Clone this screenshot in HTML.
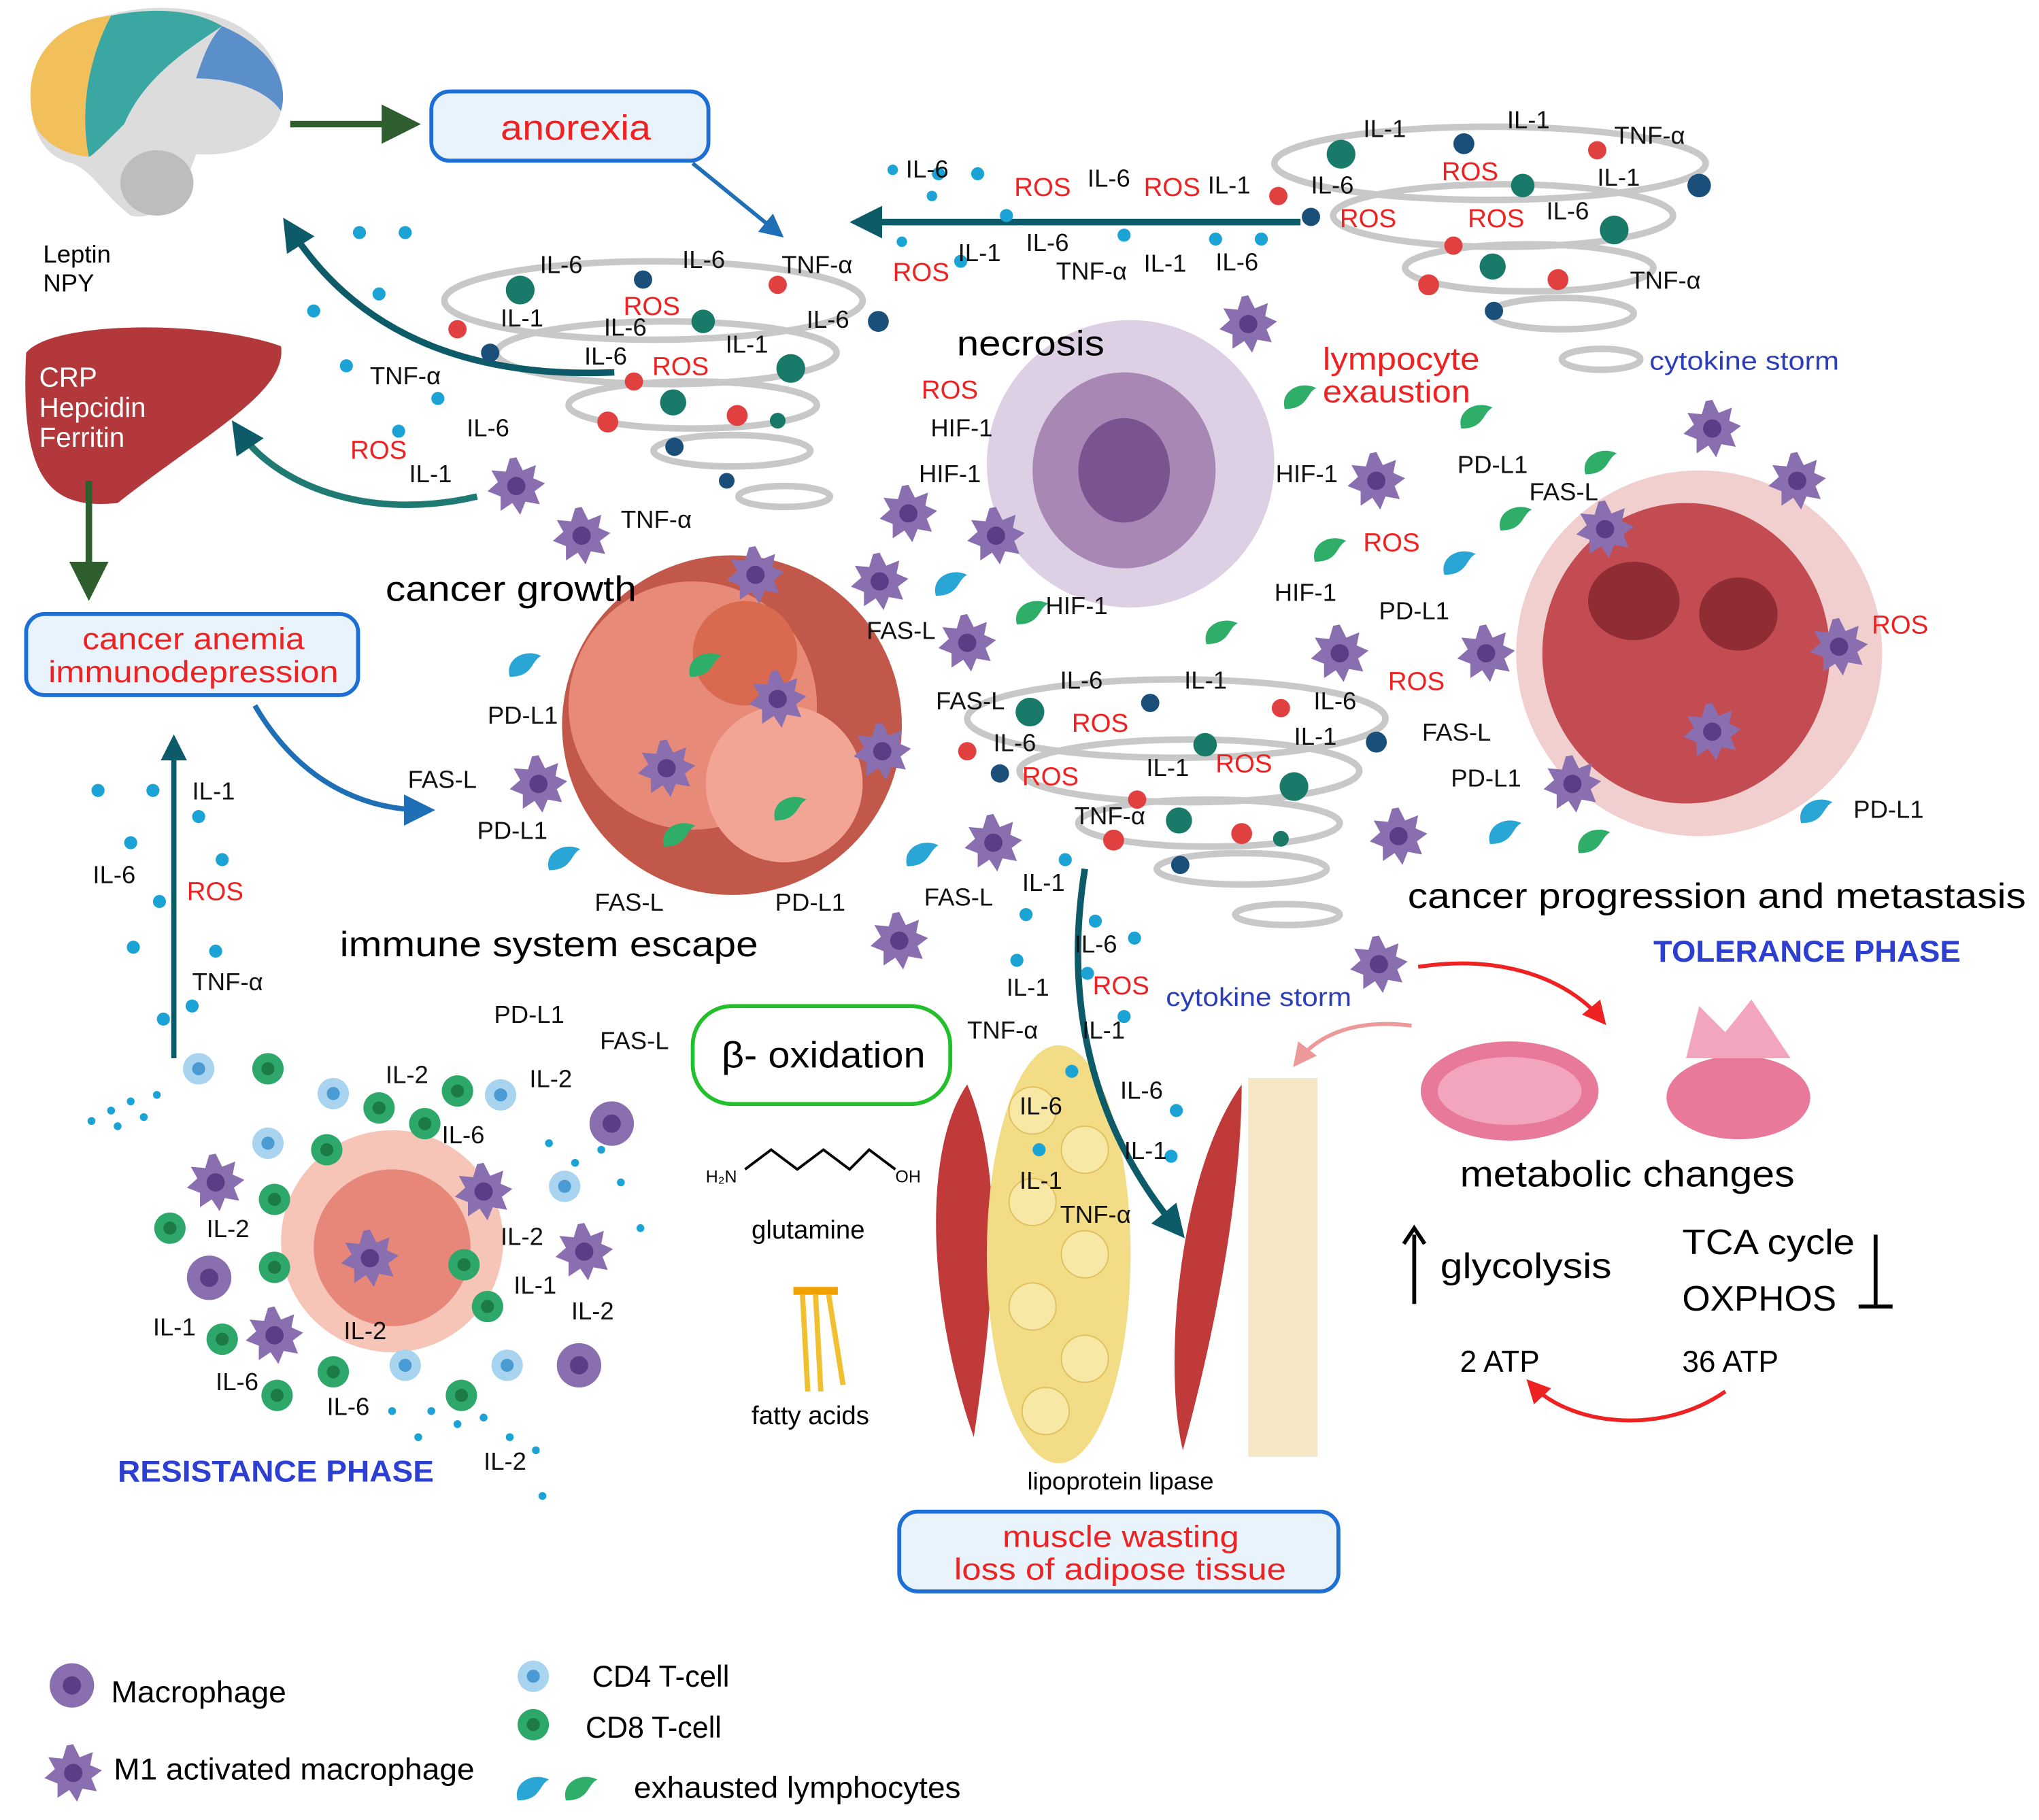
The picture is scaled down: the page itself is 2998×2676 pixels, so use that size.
<!DOCTYPE html>
<html><head><meta charset="utf-8"><style>
html,body{margin:0;padding:0;background:#fff}
svg{display:block}
text{font-family:"Liberation Sans",sans-serif}
</style></head><body>
<svg width="2998" height="2676" viewBox="0 0 1560 1393" preserveAspectRatio="none" xmlns="http://www.w3.org/2000/svg">
<defs>
<marker id="ag" markerWidth="6" markerHeight="6" refX="4" refY="3" orient="auto"><path d="M0,0L6,3L0,6z" fill="#2e5e2e"/></marker>
<marker id="ab" markerWidth="6" markerHeight="6" refX="4" refY="3" orient="auto"><path d="M0,0L6,3L0,6z" fill="#1e6fb5"/></marker>
<marker id="at" markerWidth="5" markerHeight="5" refX="3" refY="2.5" orient="auto"><path d="M0,0L5,2.5L0,5z" fill="#0d5a68"/></marker>
<marker id="ar" markerWidth="6" markerHeight="6" refX="4" refY="3" orient="auto"><path d="M0,0L6,3L0,6z" fill="#e22"/></marker>
<marker id="ap" markerWidth="6" markerHeight="6" refX="4" refY="3" orient="auto"><path d="M0,0L6,3L0,6z" fill="#e99"/></marker>
<g id="mac"><circle r="17" fill="#8a6fb0"/><circle r="7" fill="#5a3d86"/></g>
<g id="m1"><polygon points="0,-22 5,-12 15,-16 13,-6 22,-2 14,4 18,14 7,12 3,22 -3,13 -12,19 -12,8 -22,4 -14,-3 -19,-12 -8,-11 -5,-21" fill="#8a6fb0"/><circle r="7" fill="#5a3d86"/></g>
<g id="cd4"><circle r="12" fill="#a8d4ef"/><circle r="5" fill="#4a9ad4"/></g>
<g id="cd8"><circle r="12" fill="#2ea86a"/><circle r="5" fill="#1b7a48"/></g>
<g id="exb"><path d="M-12,8 C-16,-6 0,-14 12,-8 C4,-4 6,8 -12,8z" fill="#2aa6d6"/></g>
<g id="exg"><path d="M-12,8 C-16,-6 0,-14 12,-8 C4,-4 6,8 -12,8z" fill="#2fae6a"/></g>
</defs>

<!-- brain -->
<path d="M25,90 C15,40 60,8 120,6 C185,5 222,40 215,85 C210,110 180,120 150,118 C140,150 120,170 100,165 C80,150 70,130 55,125 C35,120 28,105 25,90z" fill="#dcdcdc"/>
<path d="M25,90 C15,40 50,15 85,12 C70,40 60,80 68,120 C45,118 28,105 25,90z" fill="#f2c05a"/>
<path d="M85,12 C120,5 150,8 170,20 C140,40 110,60 95,95 C80,110 70,120 68,120 C60,80 70,40 85,12z" fill="#3aa7a2"/>
<path d="M170,20 C205,35 222,60 215,85 C205,70 180,60 150,60 C155,45 160,30 170,20z" fill="#5b8fc9"/>
<ellipse cx="120" cy="140" rx="28" ry="25" fill="#bdbdbd"/>
<text x="33" y="201" font-size="19">Leptin</text><text x="33" y="223" font-size="19">NPY</text>
<!-- liver -->
<path d="M20,270 C40,245 160,245 215,265 C220,300 160,330 90,385 C40,390 15,370 20,270z" fill="#b3383c"/>
<text x="30" y="296" font-size="21" fill="#fff">CRP</text><text x="30" y="319" font-size="21" fill="#fff">Hepcidin</text><text x="30" y="342" font-size="21" fill="#fff">Ferritin</text>

<!-- boxes -->
<rect x="330" y="70" width="212" height="53" rx="14" fill="#e8f3fb" stroke="#1e6fd5" stroke-width="3"/>
<text x="383" y="107" font-size="27" fill="#e22" textLength="115" lengthAdjust="spacingAndGlyphs">anorexia</text>
<rect x="20" y="470" width="254" height="62" rx="14" fill="#e8f3fb" stroke="#1e6fd5" stroke-width="3"/>
<text x="63" y="497" font-size="23" fill="#e22" textLength="170" lengthAdjust="spacingAndGlyphs">cancer anemia</text>
<text x="37" y="522" font-size="23" fill="#e22" textLength="222" lengthAdjust="spacingAndGlyphs">immunodepression</text>
<rect x="530" y="770" width="197" height="75" rx="30" fill="#fff" stroke="#22c02a" stroke-width="3"/>
<text x="552" y="817" font-size="28" textLength="156" lengthAdjust="spacingAndGlyphs">β- oxidation</text>
<rect x="688" y="1157" width="336" height="61" rx="14" fill="#e8f3fb" stroke="#1e6fd5" stroke-width="3"/>
<text x="767" y="1184" font-size="23" fill="#e22" textLength="181" lengthAdjust="spacingAndGlyphs">muscle wasting</text>
<text x="730" y="1209" font-size="23" fill="#e22" textLength="254" lengthAdjust="spacingAndGlyphs">loss of adipose tissue</text>

<!-- spirals -->
<g fill="none" stroke="#c8c8c8" stroke-width="5">
<ellipse cx="1140" cy="125" rx="165" ry="28"/><ellipse cx="1150" cy="165" rx="130" ry="24"/><ellipse cx="1170" cy="205" rx="95" ry="18"/><ellipse cx="1195" cy="240" rx="55" ry="12"/><ellipse cx="1225" cy="275" rx="30" ry="8"/>
<ellipse cx="500" cy="230" rx="160" ry="30"/><ellipse cx="510" cy="270" rx="130" ry="24"/><ellipse cx="530" cy="310" rx="95" ry="18"/><ellipse cx="560" cy="345" rx="60" ry="12"/><ellipse cx="600" cy="380" rx="35" ry="8"/>
<ellipse cx="900" cy="550" rx="160" ry="30"/><ellipse cx="910" cy="590" rx="130" ry="24"/><ellipse cx="925" cy="630" rx="100" ry="18"/><ellipse cx="950" cy="665" rx="65" ry="12"/><ellipse cx="985" cy="700" rx="40" ry="8"/>
</g>

<!-- tumors -->
<circle cx="560" cy="555" r="130" fill="#c2584a"/>
<circle cx="530" cy="540" r="95" fill="#e88a78"/>
<circle cx="600" cy="600" r="60" fill="#f2a595"/>
<circle cx="570" cy="500" r="40" fill="#d9694f"/>
<ellipse cx="865" cy="355" rx="110" ry="110" fill="#ddd0e4"/>
<ellipse cx="860" cy="360" rx="70" ry="75" fill="#a987b5"/>
<ellipse cx="860" cy="360" rx="35" ry="40" fill="#7a5490"/>
<ellipse cx="1300" cy="500" rx="140" ry="140" fill="#f2cfcf"/>
<ellipse cx="1290" cy="500" rx="110" ry="115" fill="#c24c52"/>
<ellipse cx="1250" cy="460" rx="35" ry="30" fill="#8f2c34"/>
<ellipse cx="1330" cy="470" rx="30" ry="28" fill="#8f2c34"/>
<circle cx="300" cy="950" r="85" fill="#f6c5b8"/>
<circle cx="300" cy="955" r="60" fill="#e78779"/>

<!-- muscle / fat -->
<path d="M740,830 C705,880 710,1000 745,1100 C760,1000 770,900 740,830z" fill="#c03a3a"/>
<ellipse cx="810" cy="960" rx="55" ry="160" fill="#f3dc86"/>
<g fill="#f8e8a6" stroke="#e0c060"><circle cx="790" cy="850" r="18"/><circle cx="830" cy="880" r="18"/><circle cx="790" cy="920" r="18"/><circle cx="830" cy="960" r="18"/><circle cx="790" cy="1000" r="18"/><circle cx="830" cy="1040" r="18"/><circle cx="800" cy="1080" r="18"/></g>
<path d="M955,825 L1008,825 L1008,1115 L955,1115z" fill="#f5e6c6"/>
<path d="M950,830 C900,900 890,1050 905,1110 C935,1000 950,900 950,830z" fill="#c03a3a"/>
<!-- mitochondria -->
<ellipse cx="1155" cy="835" rx="68" ry="38" fill="#e8799a"/><ellipse cx="1155" cy="835" rx="55" ry="26" fill="#f2a5bd"/>
<ellipse cx="1330" cy="840" rx="55" ry="32" fill="#e8799a"/><path d="M1290,810 L1300,770 L1320,790 L1340,765 L1360,795 L1370,810z" fill="#f2a5bd"/>
<!-- fatty acids -->
<rect x="607" y="985" width="34" height="6" fill="#f0a000"/>
<path d="M614,991 L618,1065 M624,991 L628,1065 M634,991 L645,1060" stroke="#f0c030" stroke-width="4"/>
<text x="540" y="905" font-size="13">H₂N</text><text x="685" y="905" font-size="13">OH</text>
<path d="M570,895 L590,880 L610,895 L630,880 L650,895 L665,880 L685,895" fill="none" stroke="#000" stroke-width="2"/>

<!-- arrows -->
<g fill="none" stroke-width="5">
<path d="M222,95 L312,95" stroke="#2e5e2e" marker-end="url(#ag)"/>
<path d="M530,125 L595,178" stroke="#1e6fb5" stroke-width="3" marker-end="url(#ab)"/>
<path d="M470,285 C350,290 270,250 222,175" stroke="#0d5a68" marker-end="url(#at)"/>
<path d="M365,380 C280,400 210,370 183,330" stroke="#1e7a72" marker-end="url(#at)"/>
<path d="M68,368 L68,450" stroke="#2e5e2e" marker-end="url(#ag)"/>
<path d="M195,540 C230,600 280,620 325,620" stroke="#1e6fb5" stroke-width="4" marker-end="url(#ab)"/>
<path d="M133,810 L133,570" stroke="#0d5a68" stroke-width="4" marker-end="url(#at)"/>
<path d="M995,170 L660,170" stroke="#0d5a68" marker-end="url(#at)"/>
<path d="M830,665 C810,790 850,880 900,940" stroke="#0d5a68" marker-end="url(#at)"/>
<path d="M1085,740 C1150,730 1200,750 1225,780" stroke="#e22" stroke-width="3" marker-end="url(#ar)"/>
<path d="M1080,785 C1040,780 1010,790 993,812" stroke="#e99" stroke-width="3" marker-end="url(#ap)"/>
<path d="M1320,1065 C1270,1100 1200,1090 1172,1060" stroke="#e22" stroke-width="3" marker-end="url(#ar)"/>
</g>
<path d="M1082,998 L1082,945 M1074,952 L1082,940 L1090,952" stroke="#000" stroke-width="3" fill="none"/>
<path d="M1435,945 L1435,1000 M1422,1000 L1448,1000" stroke="#000" stroke-width="3"/>

<!-- cells -->
<g>
<use href="#m1" x="955" y="248"/><use href="#m1" x="395" y="372"/><use href="#m1" x="445" y="410"/><use href="#m1" x="695" y="393"/><use href="#m1" x="762" y="410"/><use href="#m1" x="673" y="445"/><use href="#m1" x="578" y="440"/><use href="#m1" x="595" y="535"/><use href="#m1" x="510" y="588"/><use href="#m1" x="675" y="575"/><use href="#m1" x="412" y="600"/><use href="#m1" x="740" y="492"/><use href="#m1" x="1053" y="368"/><use href="#m1" x="1310" y="328"/><use href="#m1" x="1375" y="368"/><use href="#m1" x="1228" y="405"/><use href="#m1" x="1025" y="500"/><use href="#m1" x="1137" y="500"/><use href="#m1" x="1407" y="495"/><use href="#m1" x="1310" y="560"/><use href="#m1" x="1203" y="600"/><use href="#m1" x="1070" y="640"/><use href="#m1" x="760" y="645"/><use href="#m1" x="688" y="720"/><use href="#m1" x="1055" y="738"/><use href="#m1" x="165" y="905"/><use href="#m1" x="370" y="912"/><use href="#m1" x="283" y="963"/><use href="#m1" x="447" y="958"/><use href="#m1" x="210" y="1022"/><use href="#m1" x="56" y="1357"/>
<use href="#mac" x="160" y="978"/><use href="#mac" x="468" y="860"/><use href="#mac" x="443" y="1045"/><use href="#mac" x="55" y="1290"/>
<use href="#cd4" x="152" y="818"/><use href="#cd4" x="255" y="837"/><use href="#cd4" x="383" y="838"/><use href="#cd4" x="205" y="875"/><use href="#cd4" x="432" y="908"/><use href="#cd4" x="310" y="1045"/><use href="#cd4" x="388" y="1045"/><use href="#cd4" x="408" y="1283"/>
<use href="#cd8" x="205" y="818"/><use href="#cd8" x="290" y="848"/><use href="#cd8" x="350" y="835"/><use href="#cd8" x="325" y="860"/><use href="#cd8" x="210" y="918"/><use href="#cd8" x="250" y="880"/><use href="#cd8" x="355" y="968"/><use href="#cd8" x="210" y="970"/><use href="#cd8" x="373" y="1000"/><use href="#cd8" x="130" y="940"/><use href="#cd8" x="170" y="1025"/><use href="#cd8" x="255" y="1050"/><use href="#cd8" x="212" y="1068"/><use href="#cd8" x="353" y="1068"/><use href="#cd8" x="408" y="1320"/>
<use href="#exb" x="402" y="510"/><use href="#exb" x="432" y="658"/><use href="#exb" x="706" y="655"/><use href="#exb" x="728" y="448"/><use href="#exb" x="1117" y="432"/><use href="#exb" x="1152" y="638"/><use href="#exb" x="1390" y="622"/><use href="#exb" x="408" y="1370"/>
<use href="#exg" x="995" y="305"/><use href="#exg" x="1130" y="320"/><use href="#exg" x="1225" y="355"/><use href="#exg" x="1160" y="398"/><use href="#exg" x="1018" y="422"/><use href="#exg" x="790" y="470"/><use href="#exg" x="935" y="485"/><use href="#exg" x="540" y="510"/><use href="#exg" x="520" y="640"/><use href="#exg" x="605" y="620"/><use href="#exg" x="1220" y="645"/><use href="#exg" x="445" y="1370"/>
</g>

<!-- dots -->
<g fill="#1aa3d4">
<circle cx="275" cy="178" r="5"/><circle cx="310" cy="178" r="5"/><circle cx="290" cy="225" r="5"/><circle cx="240" cy="238" r="5"/><circle cx="265" cy="280" r="5"/><circle cx="335" cy="305" r="5"/><circle cx="305" cy="330" r="5"/><circle cx="683" cy="130" r="4"/><circle cx="718" cy="133" r="5"/><circle cx="748" cy="133" r="5"/><circle cx="713" cy="150" r="4"/><circle cx="770" cy="165" r="5"/><circle cx="690" cy="185" r="4"/><circle cx="735" cy="200" r="5"/><circle cx="860" cy="180" r="5"/><circle cx="930" cy="183" r="5"/><circle cx="965" cy="183" r="5"/>
<circle cx="75" cy="605" r="5"/><circle cx="117" cy="605" r="5"/><circle cx="152" cy="625" r="5"/><circle cx="100" cy="645" r="5"/><circle cx="170" cy="658" r="5"/><circle cx="122" cy="690" r="5"/><circle cx="102" cy="725" r="5"/><circle cx="165" cy="728" r="5"/><circle cx="125" cy="780" r="5"/><circle cx="147" cy="770" r="5"/>
<circle cx="70" cy="858" r="3"/><circle cx="85" cy="850" r="3"/><circle cx="100" cy="843" r="3"/><circle cx="90" cy="862" r="3"/><circle cx="110" cy="855" r="3"/><circle cx="120" cy="838" r="3"/><circle cx="420" cy="875" r="3"/><circle cx="440" cy="890" r="3"/><circle cx="460" cy="880" r="3"/><circle cx="475" cy="905" r="3"/><circle cx="490" cy="940" r="3"/><circle cx="330" cy="1080" r="3"/><circle cx="350" cy="1090" r="3"/><circle cx="370" cy="1085" r="3"/><circle cx="390" cy="1100" r="3"/><circle cx="410" cy="1110" r="3"/><circle cx="415" cy="1145" r="3"/><circle cx="300" cy="1080" r="3"/><circle cx="320" cy="1100" r="3"/>
<circle cx="815" cy="658" r="5"/><circle cx="785" cy="700" r="5"/><circle cx="778" cy="735" r="5"/><circle cx="838" cy="705" r="5"/><circle cx="868" cy="718" r="5"/><circle cx="832" cy="745" r="5"/><circle cx="860" cy="778" r="5"/><circle cx="820" cy="820" r="5"/><circle cx="900" cy="850" r="5"/><circle cx="896" cy="885" r="5"/><circle cx="795" cy="880" r="5"/>
</g>
<g>
<circle cx="398" cy="222" r="11" fill="#1a7a6a"/><circle cx="492" cy="214" r="7" fill="#1a4f7a"/><circle cx="595" cy="218" r="7" fill="#e04040"/><circle cx="350" cy="252" r="7" fill="#e04040"/><circle cx="538" cy="246" r="9" fill="#1a7a6a"/><circle cx="672" cy="246" r="8" fill="#1a4f7a"/><circle cx="375" cy="270" r="7" fill="#1a4f7a"/><circle cx="485" cy="292" r="7" fill="#e04040"/><circle cx="605" cy="282" r="11" fill="#1a7a6a"/><circle cx="465" cy="323" r="8" fill="#e04040"/><circle cx="515" cy="308" r="10" fill="#1a7a6a"/><circle cx="564" cy="318" r="8" fill="#e04040"/><circle cx="516" cy="342" r="7" fill="#1a4f7a"/><circle cx="595" cy="322" r="6" fill="#1a7a6a"/><circle cx="556" cy="368" r="6" fill="#1a4f7a"/><circle cx="1026" cy="118" r="11" fill="#1a7a6a"/><circle cx="1120" cy="110" r="8" fill="#1a4f7a"/><circle cx="1222" cy="115" r="7" fill="#e04040"/><circle cx="978" cy="150" r="7" fill="#e04040"/><circle cx="1165" cy="142" r="9" fill="#1a7a6a"/><circle cx="1300" cy="142" r="9" fill="#1a4f7a"/><circle cx="1003" cy="166" r="7" fill="#1a4f7a"/><circle cx="1112" cy="188" r="7" fill="#e04040"/><circle cx="1235" cy="176" r="11" fill="#1a7a6a"/><circle cx="1093" cy="218" r="8" fill="#e04040"/><circle cx="1142" cy="204" r="10" fill="#1a7a6a"/><circle cx="1192" cy="214" r="8" fill="#e04040"/><circle cx="1143" cy="238" r="7" fill="#1a4f7a"/>
<circle cx="788" cy="545" r="11" fill="#1a7a6a"/><circle cx="880" cy="538" r="7" fill="#1a4f7a"/><circle cx="980" cy="542" r="7" fill="#e04040"/><circle cx="740" cy="575" r="7" fill="#e04040"/><circle cx="922" cy="570" r="9" fill="#1a7a6a"/><circle cx="1053" cy="568" r="8" fill="#1a4f7a"/><circle cx="765" cy="592" r="7" fill="#1a4f7a"/><circle cx="870" cy="612" r="7" fill="#e04040"/><circle cx="990" cy="602" r="11" fill="#1a7a6a"/><circle cx="852" cy="643" r="8" fill="#e04040"/><circle cx="902" cy="628" r="10" fill="#1a7a6a"/><circle cx="950" cy="638" r="8" fill="#e04040"/><circle cx="903" cy="662" r="7" fill="#1a4f7a"/><circle cx="980" cy="642" r="6" fill="#1a7a6a"/>
</g>

<!-- labels -->
<g font-size="19" fill="#111">
<text x="413" y="209">IL-6</text><text x="522" y="205">IL-6</text><text x="598" y="209">TNF-α</text><text x="383" y="250">IL-1</text><text x="462" y="257">IL-6</text><text x="617" y="251">IL-6</text><text x="447" y="279">IL-6</text><text x="555" y="270">IL-1</text><text x="283" y="294">TNF-α</text><text x="357" y="334">IL-6</text><text x="313" y="369">IL-1</text><text x="475" y="404">TNF-α</text>
<text x="693" y="136">IL-6</text><text x="832" y="143">IL-6</text><text x="924" y="148">IL-1</text><text x="785" y="192">IL-6</text><text x="733" y="200">IL-1</text><text x="808" y="214">TNF-α</text><text x="875" y="208">IL-1</text><text x="930" y="207">IL-6</text><text x="1043" y="105">IL-1</text><text x="1153" y="98">IL-1</text><text x="1235" y="110">TNF-α</text><text x="1003" y="148">IL-6</text><text x="1222" y="142">IL-1</text><text x="1183" y="168">IL-6</text><text x="1247" y="221">TNF-α</text>
<text x="712" y="334">HIF-1</text><text x="703" y="369">HIF-1</text><text x="976" y="369">HIF-1</text><text x="975" y="460">HIF-1</text><text x="800" y="470">HIF-1</text>
<text x="1115" y="362">PD-L1</text><text x="1170" y="383">FAS-L</text><text x="1055" y="474">PD-L1</text><text x="1088" y="567">FAS-L</text><text x="1110" y="602">PD-L1</text><text x="1418" y="626">PD-L1</text>
<text x="663" y="489">FAS-L</text><text x="373" y="554">PD-L1</text><text x="312" y="603">FAS-L</text><text x="365" y="642">PD-L1</text><text x="455" y="697">FAS-L</text><text x="593" y="697">PD-L1</text><text x="716" y="543">FAS-L</text><text x="707" y="693">FAS-L</text>
<text x="811" y="527">IL-6</text><text x="906" y="527">IL-1</text><text x="1005" y="543">IL-6</text><text x="760" y="575">IL-6</text><text x="990" y="570">IL-1</text><text x="877" y="594">IL-1</text><text x="822" y="631">TNF-α</text><text x="782" y="682">IL-1</text><text x="822" y="729">IL-6</text><text x="770" y="762">IL-1</text><text x="740" y="795">TNF-α</text><text x="828" y="795">IL-1</text><text x="857" y="841">IL-6</text><text x="780" y="853">IL-6</text><text x="860" y="887">IL-1</text><text x="780" y="910">IL-1</text><text x="811" y="936">TNF-α</text>
<text x="147" y="612">IL-1</text><text x="71" y="676">IL-6</text><text x="147" y="758">TNF-α</text><text x="378" y="783">PD-L1</text><text x="459" y="803">FAS-L</text>
<text x="295" y="829">IL-2</text><text x="405" y="832">IL-2</text><text x="338" y="875">IL-6</text><text x="158" y="947">IL-2</text><text x="383" y="953">IL-2</text><text x="393" y="990">IL-1</text><text x="437" y="1010">IL-2</text><text x="117" y="1022">IL-1</text><text x="263" y="1025">IL-2</text><text x="165" y="1064">IL-6</text><text x="250" y="1083">IL-6</text><text x="370" y="1125">IL-2</text>
</g>
<g font-size="20" fill="#e22">
<text x="776" y="150">ROS</text><text x="875" y="150">ROS</text><text x="683" y="215">ROS</text><text x="1103" y="138">ROS</text><text x="1025" y="174">ROS</text><text x="1123" y="174">ROS</text><text x="477" y="241">ROS</text><text x="499" y="287">ROS</text><text x="705" y="305">ROS</text><text x="268" y="351">ROS</text><text x="1043" y="422">ROS</text><text x="1432" y="485">ROS</text><text x="1062" y="528">ROS</text><text x="820" y="560">ROS</text><text x="930" y="591">ROS</text><text x="782" y="601">ROS</text><text x="143" y="689">ROS</text><text x="836" y="761">ROS</text>
</g>
<text x="295" y="460" font-size="27" textLength="192" lengthAdjust="spacingAndGlyphs">cancer growth</text>
<text x="260" y="732" font-size="27" textLength="320" lengthAdjust="spacingAndGlyphs">immune system escape</text>
<text x="732" y="272" font-size="27" textLength="113" lengthAdjust="spacingAndGlyphs">necrosis</text>
<text x="1012" y="283" font-size="24" fill="#e22" textLength="120" lengthAdjust="spacingAndGlyphs">lympocyte</text><text x="1012" y="308" font-size="24" fill="#e22" textLength="113" lengthAdjust="spacingAndGlyphs">exaustion</text>
<text x="1262" y="283" font-size="20" fill="#2c3fb8" textLength="145" lengthAdjust="spacingAndGlyphs">cytokine storm</text>
<text x="892" y="770" font-size="20" fill="#2c3fb8" textLength="142" lengthAdjust="spacingAndGlyphs">cytokine storm</text>
<text x="1077" y="695" font-size="27" textLength="473" lengthAdjust="spacingAndGlyphs">cancer progression and metastasis</text>
<text x="1265" y="736" font-size="23" font-weight="bold" fill="#2c3fd0" textLength="235" lengthAdjust="spacingAndGlyphs">TOLERANCE PHASE</text>
<text x="90" y="1134" font-size="23" font-weight="bold" fill="#2c3fd0" textLength="242" lengthAdjust="spacingAndGlyphs">RESISTANCE PHASE</text>
<text x="575" y="948" font-size="20">glutamine</text>
<text x="575" y="1090" font-size="20">fatty acids</text>
<text x="786" y="1140" font-size="19">lipoprotein lipase</text>
<text x="1117" y="908" font-size="28" textLength="256" lengthAdjust="spacingAndGlyphs">metabolic changes</text>
<text x="1102" y="978" font-size="27" textLength="131" lengthAdjust="spacingAndGlyphs">glycolysis</text>
<text x="1287" y="960" font-size="27" textLength="132" lengthAdjust="spacingAndGlyphs">TCA cycle</text>
<text x="1287" y="1003" font-size="27" textLength="118" lengthAdjust="spacingAndGlyphs">OXPHOS</text>
<text x="1117" y="1050" font-size="23">2 ATP</text>
<text x="1287" y="1050" font-size="23">36 ATP</text>
<text x="85" y="1303" font-size="23" textLength="134" lengthAdjust="spacingAndGlyphs">Macrophage</text>
<text x="87" y="1362" font-size="23" textLength="276" lengthAdjust="spacingAndGlyphs">M1 activated macrophage</text>
<text x="453" y="1291" font-size="23" textLength="105" lengthAdjust="spacingAndGlyphs">CD4 T-cell</text>
<text x="448" y="1330" font-size="23" textLength="104" lengthAdjust="spacingAndGlyphs">CD8 T-cell</text>
<text x="485" y="1376" font-size="23" textLength="250" lengthAdjust="spacingAndGlyphs">exhausted lymphocytes</text>
</svg>
</body></html>
